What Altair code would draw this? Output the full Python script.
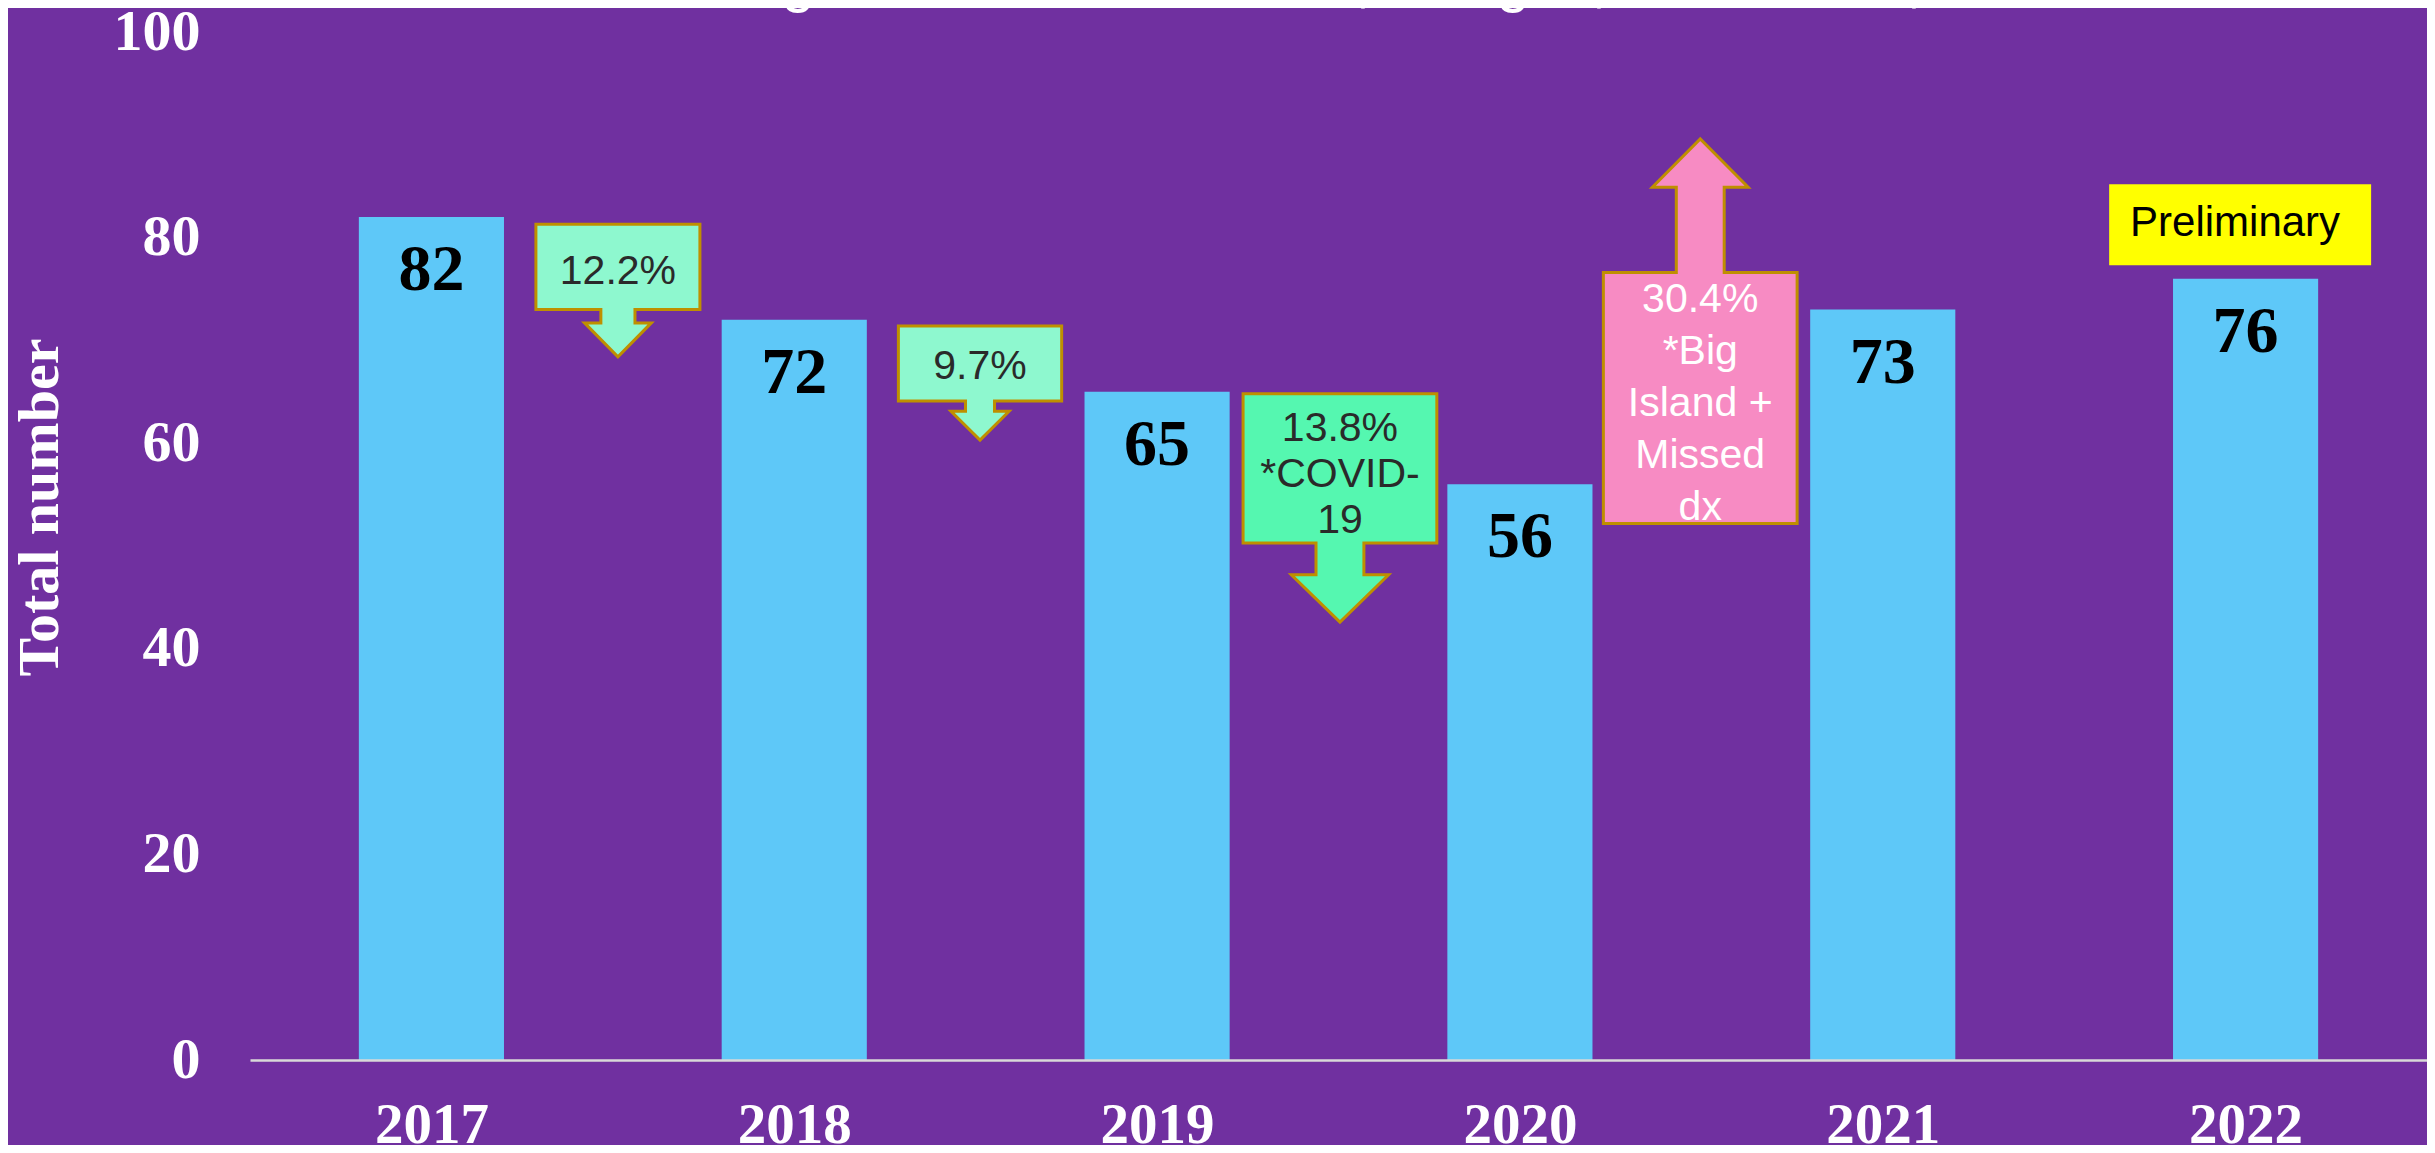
import json
import altair as alt
import pandas as pd

# ---------------- data ----------------
years = ["2017", "2018", "2019", "2020", "2021", "2022"]
totals = [82, 72, 65, 56, 73, 76]

title_text = "Number of diagnosed HIV infections, all ages, 2017-2022, statewide"
y_title = "Total number"
y_ticks = [0, 20, 40, 60, 80, 100]

# arrow call-outs placed between bars (x in bar-index units, y in data units)
callout_text = ["12.2%", "9.7%", "13.8%\n*COVID-\n19", "30.4%\n*Big\nIsland +\nMissed\ndx"]
callout_pos = [0.514, 1.512, 2.504, 3.497]
callout_box_lo = [73.0, 64.1, 50.3, 52.2]
callout_box_hi = [81.3, 71.4, 64.8, 76.6]
callout_head_base = [71.7, 63.1, 47.2, 84.9]
callout_tip = [68.4, 60.3, 42.6, 89.6]
callout_up = [False, False, False, True]
callout_text_y = [76.7, 67.4, 61.4, 73.9]   # first text line
callout_box_half = [0.226, 0.225, 0.267, 0.267]
callout_shaft_half = [0.047, 0.040, 0.066, 0.066]
callout_head_half = [0.092, 0.080, 0.134, 0.132]
callout_fill = ["#8EF8CF", "#8EF8CF", "#55F7B0", "#F78BC3"]
callout_text_color = ["#2A2A2A", "#2A2A2A", "#2A2A2A", "#FFFFFF"]
callout_line_height = [46, 46, 46, 52]

prelim_text = "Preliminary"
prelim_x = [4.624, 5.346]
prelim_y = [77.3, 85.2]
prelim_text_x = 4.971
prelim_text_y = 81.4

# ---------------- styles ----------------
BG = "#7030A0"
BAR = "#5EC8F8"
EDGE = "#BF8F00"
SERIF = "Liberation Serif"
SANS = "Liberation Sans"
BAR_HALF = 0.2

xscale = alt.Scale(domain=[-0.5, 5.5], nice=False, zero=False)
yscale = alt.Scale(domain=[0, 100], nice=False, zero=True)

x_axis = alt.Axis(
    title=None, values=list(range(len(years))),
    labelExpr=json.dumps(years) + "[datum.value]",
    grid=False, ticks=False, tickSize=0, domain=True,
    domainColor="#D9D9D9", domainWidth=2.5, zindex=1,
    labelColor="white", labelFont=SERIF, labelFontWeight="bold",
    labelFontSize=57, labelPadding=37, labelBaseline="top",
)
y_axis = alt.Axis(
    title=y_title, values=y_ticks, grid=False, ticks=False, tickSize=0,
    domain=False, labelColor="white", labelFont=SERIF,
    labelFontWeight="bold", labelFontSize=58, labelPadding=50,
    titleColor="white", titleFont=SERIF, titleFontWeight="bold",
    titleFontSize=58, titleAngle=270, titleX=-193, titleY=475,
    titleBaseline="alphabetic", titleAlign="center",
)


def X(field, **kw):
    return alt.X(field, type="quantitative", scale=xscale, axis=x_axis, **kw)


def Y(field, **kw):
    return alt.Y(field, type="quantitative", scale=yscale, axis=y_axis, **kw)


bars_df = pd.DataFrame({"i": list(range(len(years))), "year": years, "v": totals})

bars = alt.Chart(bars_df).transform_calculate(
    x0=f"datum.i - {BAR_HALF}", x1=f"datum.i + {BAR_HALF}"
).mark_rect(color=BAR).encode(
    x=X("x0"), x2=alt.X2("x1"), y=Y("v"), y2=alt.Y2(datum=0)
)

bar_labels = alt.Chart(bars_df).mark_text(
    font=SERIF, fontWeight="bold", fontSize=66, color="black",
    baseline="alphabetic", align="center", dy=73,
).encode(x=X("i"), y=Y("v"), text="v:Q")

layers = [bars, bar_labels]

for k in range(len(callout_text)):
    cx = callout_pos[k]
    bw, sw, hw = callout_box_half[k], callout_shaft_half[k], callout_head_half[k]
    lo, hi = callout_box_lo[k], callout_box_hi[k]
    hb, tip = callout_head_base[k], callout_tip[k]
    near, far = (hi, lo) if callout_up[k] else (lo, hi)
    pts = [
        (cx - bw, far), (cx + bw, far), (cx + bw, near), (cx + sw, near),
        (cx + sw, hb), (cx + hw, hb), (cx, tip), (cx - hw, hb),
        (cx - sw, hb), (cx - sw, near), (cx - bw, near), (cx - bw, far),
        (cx + bw, far),
    ]
    poly = pd.DataFrame({"o": list(range(len(pts))),
                         "px": [p[0] for p in pts],
                         "py": [p[1] for p in pts]})
    shape = alt.Chart(poly).mark_line(
        fill=callout_fill[k], stroke=EDGE, strokeWidth=3, strokeJoin="miter",
        interpolate="linear",
    ).encode(x=X("px"), y=Y("py"), order=alt.Order("o:Q"))
    txt = alt.Chart(pd.DataFrame({"tx": [cx], "ty": [callout_text_y[k]],
                                  "t": [callout_text[k]]})).mark_text(
        font=SANS, fontSize=41, color=callout_text_color[k], align="center",
        baseline="middle", lineBreak="\n", lineHeight=callout_line_height[k],
    ).encode(x=X("tx"), y=Y("ty"), text="t:N")
    layers += [shape, txt]

prelim_box = alt.Chart(pd.DataFrame({"a": [prelim_x[0]], "b": [prelim_x[1]],
                                     "c": [prelim_y[0]], "d": [prelim_y[1]]})
                       ).mark_rect(color="#FFFF00").encode(
    x=X("a"), x2=alt.X2("b"), y=Y("c"), y2=alt.Y2("d"))
prelim_label = alt.Chart(pd.DataFrame({"tx": [prelim_text_x], "ty": [prelim_text_y],
                                       "t": [prelim_text]})).mark_text(
    font=SANS, fontSize=42, color="black", align="center", baseline="middle",
).encode(x=X("tx"), y=Y("ty"), text="t:N")

title_mark = alt.Chart(pd.DataFrame({"t": [title_text]})).mark_text(
    font=SANS, fontSize=59, color="white", align="center", baseline="alphabetic",
).encode(x=alt.value(1050), y=alt.value(-31), text="t:N")

layers += [prelim_box, prelim_label, title_mark]

chart = alt.layer(*layers).properties(
    width=2177, height=1028,
    background=BG,
    padding={"left": 242, "top": 24, "right": 0, "bottom": 85},
    autosize=alt.AutoSizeParams(type="none"),
).configure_view(stroke=None)

chart.save("out.html", embed_options={"renderer": "svg", "actions": False})
